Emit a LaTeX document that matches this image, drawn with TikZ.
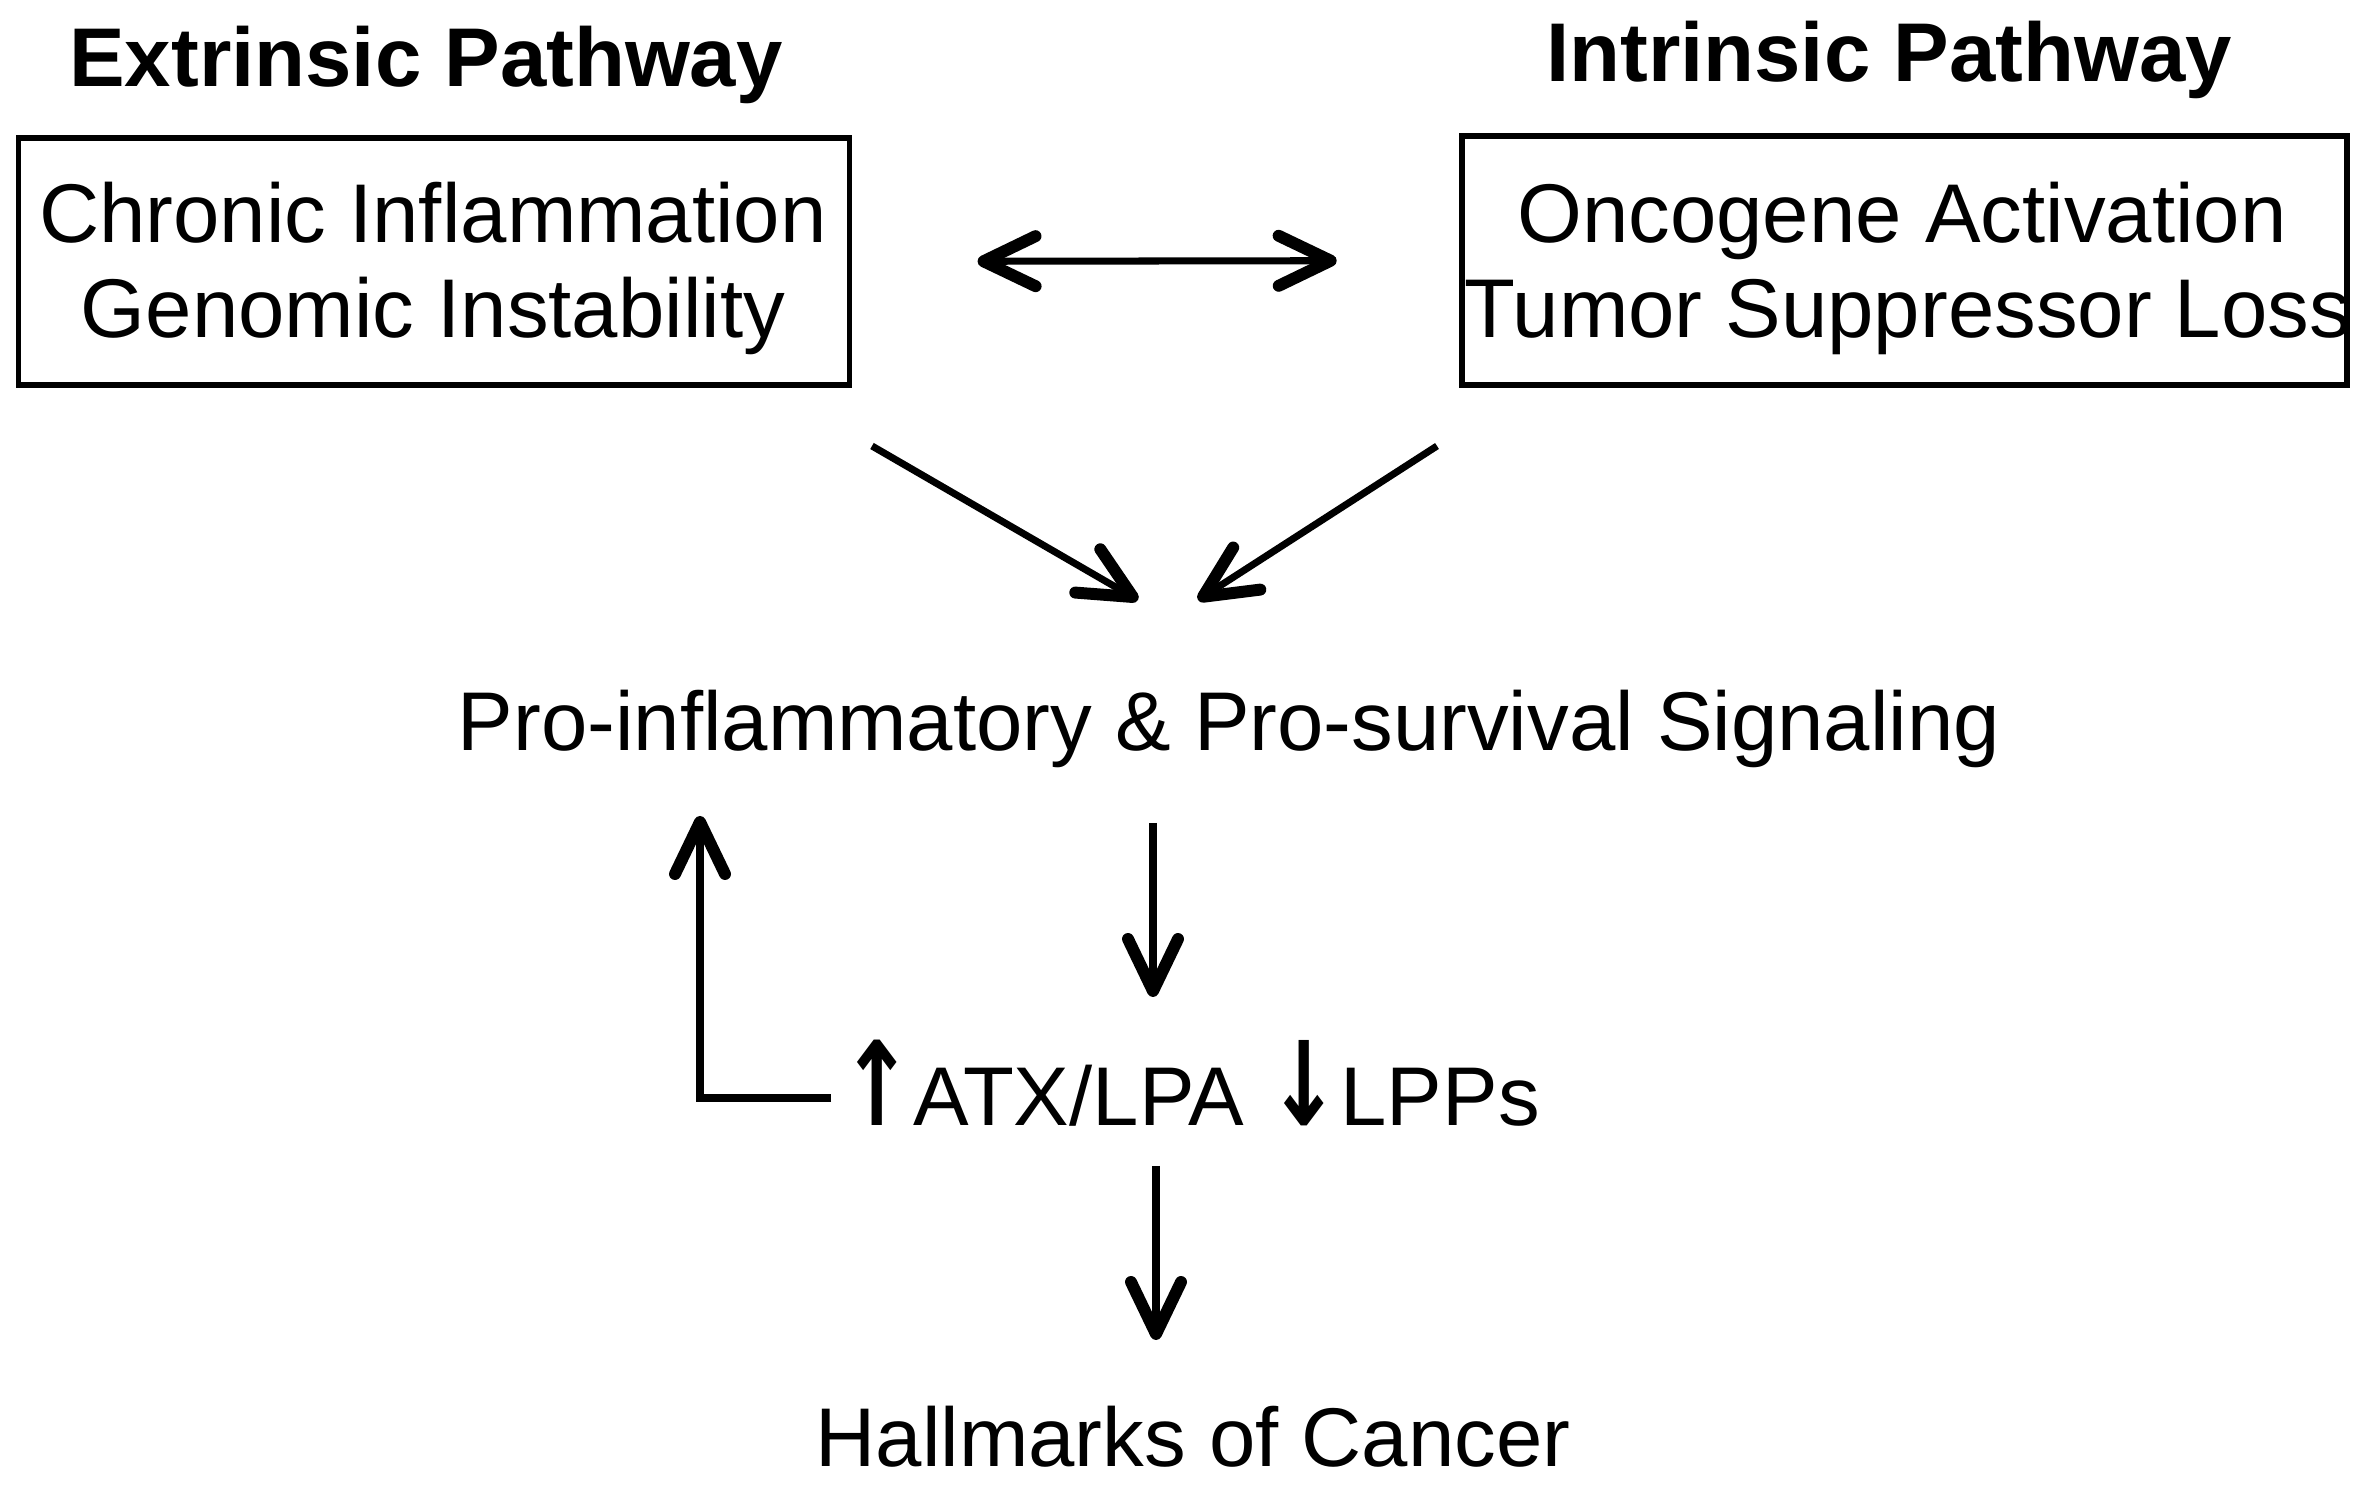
\documentclass[tikz,border=0pt]{standalone}
\usepackage{fontspec}
\usepackage{graphicx}
\setmainfont{Liberation Sans}
\newfontfamily\arrowfont{DejaVu Sans}
\usetikzlibrary{arrows.meta}

\newcommand{\updown}[1]{\scalebox{1.05}[1.4]{\arrowfont\bfseries #1}}

\begin{document}
\begin{tikzpicture}[x=0.01cm,y=-0.01cm,
	every node/.style={inner sep=0pt,font=\fontsize{23.7}{27}\selectfont},
	heading/.style={anchor=base,font=\fontsize{23.7}{27}\selectfont\bfseries},
	txt/.style={anchor=base},
	pathbox/.style={draw,line width=1.7pt},
	chev/.tip={Straight Barb[length=5.2mm,width=5mm,line width=3.4pt,round]},
	flow/.style={line width=2pt,-chev}]
\useasboundingbox (0,0) rectangle (2369,1489);

% the two pathways
\node[heading] (exttitle) at (426,87) {Extrinsic Pathway};
\node[heading] (inttitle) at (1889,82) {Intrinsic Pathway};

\node[pathbox,minimum width=8.305cm,minimum height=2.47cm] (extbox) at (434,261.5) {};
\node[pathbox,minimum width=8.85cm,minimum height=2.49cm] (intbox) at (1904.5,260.5) {};

\node[txt] (chronic) at (433,243) {Chronic Inflammation};
\node[txt] (genomic) at (433,338) {Genomic Instability};
\node[txt] (onco) at (1902,243) {Oncogene Activation};
\node[txt] (tumor) at (1908,338) {Tumor Suppressor Loss};

\draw[line width=2pt,chev-chev,shorten <=1.25cm,shorten >=1.22cm] (extbox.east) -- (intbox.west);

% signaling cascade
\node[txt] (signal) at (1229,751) {Pro-inflammatory \& Pro-survival Signaling};
\node[txt] (atx) at (1190,1126) {\updown{↑}ATX/LPA \updown{↓}LPPs};
\node[txt] (hallmarks) at (1193,1466) {Hallmarks of Cancer};

\coordinate (extfoot) at (872,446);
\coordinate (intfoot) at (1437,446);
\coordinate (mergeL) at (1138,600);
\coordinate (mergeR) at (1198,600);
\coordinate (sigout) at (1153,823);
\coordinate (atxin) at (1153,997);
\coordinate (atxout) at (1156,1166);
\coordinate (hallin) at (1156,1340);
\coordinate (loopstart) at (831,1098);
\coordinate (loopend) at (700,816);

\draw[flow] (extfoot) -- (mergeL);
\draw[flow] (intfoot) -- (mergeR);
\draw[flow] (sigout) -- (atxin);
\draw[flow] (atxout) -- (hallin);
\draw[flow] (loopstart) -| (loopend);
\end{tikzpicture}
\end{document}
